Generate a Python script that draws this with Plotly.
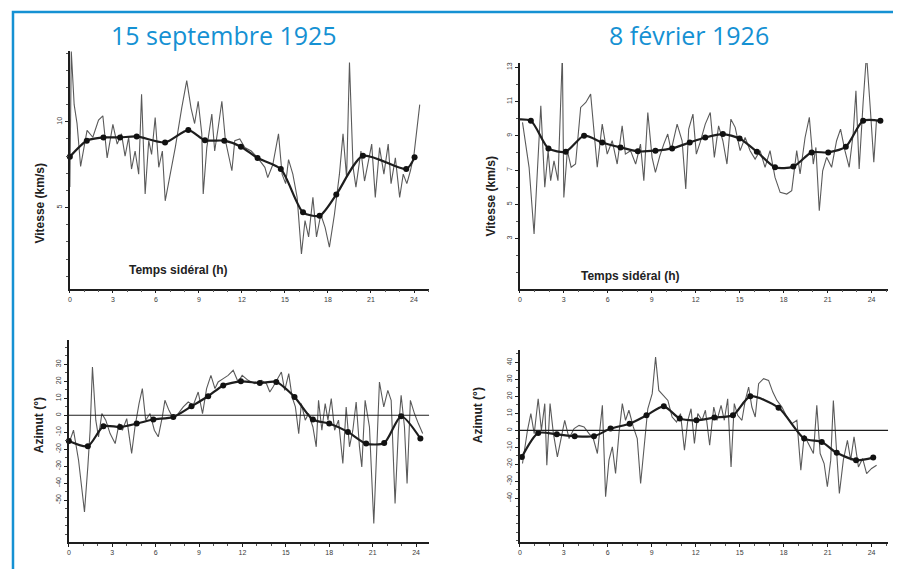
import plotly.graph_objects as go

# ---------------- data ----------------
X_TICKS = [0, 3, 6, 9, 12, 15, 18, 21, 24]
X_TICK_LABELS = ["0", "3", "6", "9", "12", "15", "18", "21", "24"]

TITLE_LEFT = "15 septembre 1925"
TITLE_RIGHT = "8 février 1926"

# Top-left: vitesse, 15 sept 1925
tl_noisy_h = [0.0,0.1,0.3,0.5,0.75,1.2,1.6,2.0,2.3,2.6,3.0,3.3,3.6,3.85,4.1,4.3,4.55,4.8,5.0,5.25,5.5,5.7,5.95,6.2,6.45,6.65,7.0,7.35,7.8,8.15,8.45,8.7,8.95,9.2,9.3,9.55,9.9,10.1,10.35,10.6,10.85,11.3,11.5,11.85,12.2,12.65,13.1,13.6,13.8,14.15,14.55,14.8,15.05,15.25,15.55,15.85,16.15,16.4,16.65,16.95,17.2,17.5,17.8,18.1,18.45,18.8,19.05,19.3,19.5,19.75,19.95,20.3,20.55,20.8,21.05,21.3,21.6,21.9,22.2,22.4,22.7,23.0,23.25,23.5,23.75,24.0,24.4]
tl_noisy_v = [6.2,14.1,11.0,9.9,7.4,9.5,9.1,10.1,10.35,7.9,9.85,8.7,9.3,8.0,9.1,7.25,8.3,6.95,11.6,5.8,8.9,8.1,10.25,7.35,8.3,5.4,6.95,8.5,10.8,12.4,10.8,9.9,11.2,9.3,5.8,8.5,10.45,8.3,9.7,11.2,8.9,7.15,8.9,9.0,8.5,8.3,7.9,7.35,6.75,7.5,9.3,6.95,6.4,7.8,6.95,5.6,2.3,4.25,3.3,5.6,3.3,4.6,3.85,2.7,4.6,6.95,9.3,6.75,13.45,7.35,6.2,8.3,6.55,7.7,8.7,5.6,8.5,6.95,8.7,6.4,7.9,5.6,6.95,6.4,7.15,8.1,11.0]
tl_smooth_h = [0.0,1.18,2.34,3.5,4.66,6.64,8.26,9.42,10.77,11.93,13.09,14.71,16.26,17.42,18.58,20.44,23.46,24.04]
tl_smooth_v = [7.97,8.9,9.09,9.09,9.15,8.8,9.52,8.93,8.9,8.55,7.89,7.25,4.73,4.53,5.76,8.02,7.25,7.93]
tl_yticks = [5, 10]

# Top-right: vitesse, 8 fev 1926
tr_noisy_h = [0.18,0.63,0.97,1.25,1.43,1.7,1.93,2.1,2.33,2.6,2.9,3.0,3.24,3.5,3.8,4.15,4.5,4.83,5.1,5.28,5.62,5.96,6.3,6.64,6.98,7.2,7.55,7.9,8.23,8.46,8.73,9.02,9.25,9.55,9.82,10.09,10.32,10.73,11.07,11.32,11.52,11.81,12.04,12.3,12.65,12.99,13.27,13.56,13.85,14.13,14.4,14.69,15.03,15.37,15.71,16.05,16.39,16.73,17.07,17.41,17.76,18.21,18.55,18.89,19.12,19.46,19.75,20.02,20.2,20.43,20.66,20.93,21.27,21.61,21.88,22.18,22.47,22.74,22.93,23.15,23.42,23.65,23.92,24.15,24.33]
tr_noisy_v = [9.78,7.16,3.27,8.13,10.75,6.0,8.13,6.38,7.54,6.38,13.76,5.4,8.13,7.16,7.35,10.65,10.94,11.43,9.1,7.16,9.68,7.93,8.71,7.35,9.58,7.93,8.13,7.35,8.51,6.38,10.36,7.74,6.86,7.83,8.51,9.1,8.13,9.68,8.71,5.9,9.39,10.26,7.93,8.61,9.68,10.36,7.74,9.58,8.71,7.35,9.97,9.49,8.13,8.9,8.13,7.64,8.13,7.16,8.13,6.57,5.7,5.6,5.8,8.13,6.77,8.9,10.07,7.35,8.32,4.63,6.96,7.74,7.16,8.71,9.39,8.13,7.16,9.1,11.62,7.06,10.94,13.76,10.46,7.45,9.87]
tr_smooth_h = [-0.54,0.75,1.95,3.13,4.38,5.62,6.87,8.05,9.25,10.39,11.59,12.65,13.85,14.99,16.17,17.41,18.66,19.91,21.04,22.24,23.42,24.6]
tr_smooth_v = [9.93,9.87,8.26,8.07,9.0,8.61,8.32,8.09,8.13,8.26,8.61,8.9,9.1,8.84,8.07,7.16,7.2,8.03,8.03,8.36,9.87,9.87]
tr_yticks = [3, 5, 7, 9, 11, 13]

# Bottom-left: azimut, 15 sept 1925
bl_noisy_h = [0.0,0.32,0.67,1.08,1.31,1.47,1.63,1.86,2.05,2.28,2.55,2.85,3.2,3.47,3.7,4.0,4.34,4.57,4.85,5.08,5.31,5.61,5.91,6.18,6.46,6.64,6.92,7.22,7.56,7.91,8.25,8.6,8.94,9.24,9.52,9.82,10.1,10.32,10.67,11.01,11.36,11.7,11.98,12.39,12.85,13.31,13.66,13.89,14.11,14.41,14.69,14.92,15.2,15.43,15.66,15.89,16.07,16.34,16.57,16.87,17.1,17.26,17.49,17.72,17.91,18.14,18.37,18.64,18.94,19.17,19.4,19.63,19.86,20.09,20.25,20.48,20.78,21.08,21.31,21.47,21.77,22.05,22.28,22.55,22.78,22.97,23.2,23.38,23.61,23.89,24.16,24.46]
bl_noisy_v = [-16.7,-8.8,-26.5,-56.9,-30.4,-8.8,28.4,-2.9,-12.7,1.0,-2.9,-10.8,-16.7,-4.9,-8.8,-2.0,-22.5,-6.9,6.9,15.7,-2.9,1.0,-8.8,-12.7,-1.0,8.8,2.9,-2.0,1.0,4.9,7.8,5.9,13.7,1.0,15.7,23.5,15.7,19.6,21.6,23.5,26.5,19.6,23.5,20.6,18.6,20.6,18.6,13.7,16.7,21.6,25.5,14.7,24.5,10.8,4.9,-10.8,6.9,-2.9,1.0,-6.9,-18.6,8.8,-8.8,6.9,-2.9,9.8,-8.8,-2.9,-28.4,4.9,-18.6,-8.8,7.8,-18.6,-30.4,8.8,-6.9,-63.7,-10.8,19.6,4.9,14.7,8.8,-52.0,-8.8,11.8,-6.9,-40.2,8.8,1.0,-4.9,-10.8]
bl_smooth_h = [0.0,1.31,2.39,3.54,4.69,5.84,7.22,8.48,9.63,10.67,11.89,13.2,14.34,15.6,16.87,18.0,19.29,20.55,21.8,22.97,24.3]
bl_smooth_v = [-15.1,-18.2,-6.5,-6.9,-4.9,-2.5,-1.0,5.3,11.2,17.6,20.0,19.0,19.6,10.8,-2.5,-4.9,-9.8,-16.7,-16.3,-0.6,-13.7]
bl_yticks = [-50, -40, -30, -20, -10, 0, 10, 20, 30]

# Bottom-right: azimut, 8 fev 1926
br_noisy_h = [0.18,0.52,0.75,0.98,1.25,1.47,1.7,1.84,2.06,2.29,2.56,2.79,3.06,3.36,3.7,4.04,4.38,4.72,5.01,5.29,5.63,5.85,6.08,6.31,6.53,6.76,6.99,7.21,7.44,7.74,8.01,8.24,8.51,8.73,9.03,9.26,9.48,9.82,10.1,10.39,10.69,10.96,11.23,11.46,11.68,11.91,12.14,12.43,12.66,12.95,13.23,13.45,13.73,13.95,14.18,14.41,14.63,14.86,15.15,15.38,15.61,15.83,16.06,16.29,16.63,16.97,17.26,17.54,17.88,18.22,18.56,18.9,19.17,19.4,19.69,20.03,20.26,20.49,20.76,20.98,21.21,21.39,21.62,21.8,22.07,22.35,22.57,22.8,23.1,23.39,23.66,24.0,24.34]
br_noisy_v = [-19.6,0.0,9.8,-2.0,18.6,0.0,15.7,-20.6,15.7,-2.0,-15.7,-5.9,5.9,-4.9,1.0,2.9,2.0,-2.0,-4.9,-13.7,14.7,-39.2,-17.6,-9.8,-25.5,-2.0,15.7,5.9,11.8,2.0,-4.9,-31.4,-7.8,12.7,21.6,43.1,23.5,20.6,17.6,7.8,4.9,9.8,-11.8,5.9,12.7,-7.8,9.8,5.9,11.8,-8.8,13.7,5.9,14.7,5.9,18.6,-21.6,15.7,8.8,5.9,17.6,25.5,13.7,7.8,27.5,30.4,29.4,22.5,17.6,13.7,7.8,3.9,5.9,-23.5,-2.9,-7.8,-13.7,14.7,-13.7,-19.6,-33.3,-17.6,17.6,-13.7,-37.3,-17.6,-5.9,-17.6,-3.9,-21.6,-16.7,-25.5,-22.5,-20.6]
br_smooth_h = [0.14,1.25,2.52,3.74,5.06,6.19,7.49,8.64,9.82,10.91,12.05,13.27,14.54,15.72,17.65,19.4,20.6,21.62,22.94,24.11]
br_smooth_v = [-15.7,-1.6,-2.4,-3.5,-3.5,1.0,3.9,8.8,14.1,6.9,5.9,7.5,8.8,20.0,13.3,-4.9,-6.9,-13.3,-17.6,-16.1]
br_yticks = [-40, -30, -20, -10, 0, 10, 20, 30, 40]

AZ_REF = 0  # horizontal reference line of the azimut panels

# ---------------- styling ----------------
# the page body has an 8px default margin, so the figure is placed at (8, 8)
OFF = 8
W, H = 901 - OFF, 569 - OFF
BLUE = "#1591d3"
INK = "#1e1e1e"
NOISE = "#5a5a5a"
TICKFONT = dict(family="Liberation Sans, Arial", size=7, color="#3a3a3a")
LABFONT = dict(family="Liberation Sans, Arial", size=12, color="#222222")

def px_x(p):
    return (p - OFF) / W

def px_y(p):
    return 1 - (p - OFF) / H

fig = go.Figure()

panels = [
    ("", tl_noisy_h, tl_noisy_v, tl_smooth_h, tl_smooth_v),
    ("2", tr_noisy_h, tr_noisy_v, tr_smooth_h, tr_smooth_v),
    ("3", bl_noisy_h, bl_noisy_v, bl_smooth_h, bl_smooth_v),
    ("4", br_noisy_h, br_noisy_v, br_smooth_h, br_smooth_v),
]
for suf, nh, nv, sh, sv in panels:
    fig.add_trace(go.Scatter(x=nh, y=nv, mode="lines", xaxis="x" + suf, yaxis="y" + suf,
                             line=dict(color=NOISE, width=1.1), showlegend=False, hoverinfo="skip"))
    fig.add_trace(go.Scatter(x=sh, y=sv, mode="lines+markers", xaxis="x" + suf, yaxis="y" + suf,
                             line=dict(color=INK, width=2.2, shape="spline", smoothing=0.7),
                             marker=dict(color="#111111", size=6),
                             cliponaxis=False, showlegend=False, hoverinfo="skip"))

def xaxis(domain, rng, anchor):
    return dict(domain=domain, range=rng, anchor=anchor, showline=True, linecolor=INK, linewidth=1.5,
                showgrid=False, zeroline=False, tickvals=X_TICKS, ticktext=X_TICK_LABELS,
                ticks="outside", ticklen=3, tickcolor=INK, tickfont=TICKFONT,
                minor=dict(dtick=1, ticks="outside", ticklen=2, tickcolor="#555"))

def yaxis(domain, rng, anchor, tv, minor_dt):
    return dict(domain=domain, range=rng, anchor=anchor, showline=True, linecolor=INK, linewidth=1.5,
                showgrid=False, zeroline=False, tickvals=tv, ticktext=[str(t) for t in tv],
                ticks="outside", ticklen=3, tickcolor=INK, tickfont=TICKFONT, tickangle=-90,
                minor=dict(dtick=minor_dt, ticks="outside", ticklen=2, tickcolor="#555"))

top_dom = [px_y(288), px_y(50)]
top_dom_r = [px_y(288), px_y(62)]
bot_dom_l = [px_y(542), px_y(340)]
bot_dom_r = [px_y(542), px_y(350)]

fig.update_layout(
    width=W, height=H, margin=dict(l=0, r=0, t=0, b=0),
    paper_bgcolor="white", plot_bgcolor="rgba(0,0,0,0)",
    xaxis=xaxis([px_x(68), px_x(428)], [0, 25.05], "y"),
    yaxis=yaxis(top_dom, [0.29, 14.13], "x", tl_yticks, 1),
    xaxis2=xaxis([px_x(519), px_x(888)], [0, 25.12], "y2"),
    yaxis2=yaxis(top_dom_r, [0.09, 13.25], "x2", tr_yticks, 1),
    xaxis3=xaxis([px_x(67), px_x(428)], [0, 24.9], "y3"),
    yaxis3=yaxis(bot_dom_l, [-74.7, 44.1], "x3", bl_yticks, 5),
    xaxis4=xaxis([px_x(519), px_x(888)], [0, 25.12], "y4"),
    yaxis4=yaxis(bot_dom_r, [-65.9, 47.1], "x4", br_yticks, 5),
)

# reference lines in azimut panels
for suf in ("3", "4"):
    fig.add_shape(type="line", xref="x%s domain" % suf, yref="y" + suf, x0=0, x1=1,
                  y0=AZ_REF, y1=AZ_REF, line=dict(color=INK, width=1.2))

# blue frame (open at the bottom, as in the reference crop)
fig.add_shape(type="rect", xref="paper", yref="paper", x0=px_x(11), x1=px_x(896),
              y0=-0.1, y1=px_y(11), line=dict(color=BLUE, width=2.5), fillcolor="rgba(0,0,0,0)")

ann = []
for txt, x in ((TITLE_LEFT, 222), (TITLE_RIGHT, 689)):
    ann.append(dict(text=txt, x=px_x(x), y=px_y(34), xref="paper", yref="paper", showarrow=False,
                    xanchor="center", yanchor="middle",
                    font=dict(family="Open Sans", size=25, color=BLUE, weight=500)))
for txt, x, y, ang in (("Vitesse (km/s)", 38, 202, -90), ("Vitesse (km/s)", 490, 195, -90),
                       ("Temps sidéral (h)", 176, 269, 0), ("Temps sidéral (h)", 629, 275, 0),
                       ("Azimut (°)", 37, 425, -90), ("Azimut (°)", 477, 415, -90)):
    ann.append(dict(text="<b>%s</b>" % txt, x=px_x(x), y=px_y(y), xref="paper", yref="paper",
                    showarrow=False, xanchor="center", yanchor="middle", textangle=ang, font=LABFONT))
fig.update_layout(annotations=ann)

fig.write_html("out.html")
